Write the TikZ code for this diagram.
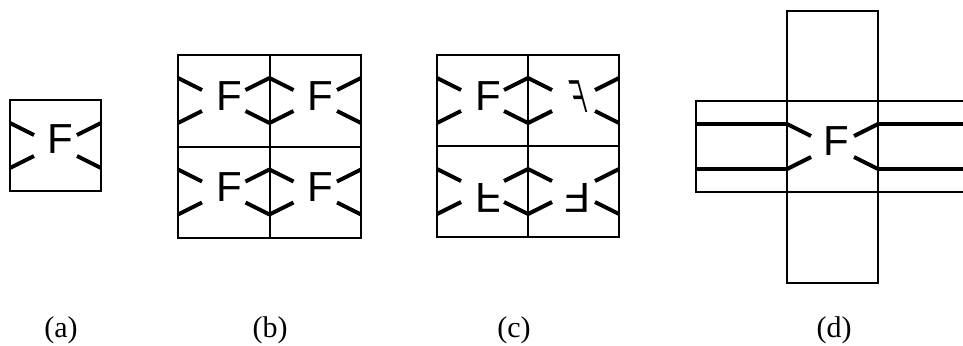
\documentclass[tikz,border=0pt]{standalone}
\usepackage{fontspec}
\setmainfont{Liberation Serif}
\newfontfamily\glyphfont{Liberation Sans}
\usetikzlibrary{positioning}

\begin{document}
\begin{tikzpicture}[
  x=0.5pt,y=-0.5pt,
  cellbox/.style={draw,line width=1pt},
  wedge/.style={line width=2pt},
  glyph/.style={font=\glyphfont\fontsize{21}{21}\selectfont,inner sep=0pt},
  caption/.style={font=\fontsize{15}{15}\selectfont,anchor=base,inner sep=0pt}
]
  \useasboundingbox (0,0) rectangle (963,345);
  \clip (0,0) rectangle (963,345);
  % (a) single cell
  \draw[cellbox] (10,100) rectangle (101,191);
  % (b) and (c) 2x2 grids
  \draw[cellbox] (178,55) rectangle (361,238);
  \draw[cellbox] (269.5,55) -- (269.5,238);
  \draw[cellbox] (178,146.5) -- (361,146.5);
  \draw[cellbox] (437,55) rectangle (619,237);
  \draw[cellbox] (528,55) -- (528,237);
  \draw[cellbox] (437,146) -- (619,146);
  % (d) cross
  \draw[cellbox] (787,11) rectangle (878,283);
  \draw[cellbox] (696,101) rectangle (969,192);
  \draw[wedge] (696,124) -- (787,124);
  \draw[wedge] (696,169) -- (787,169);
  \draw[wedge] (878,124) -- (969,124);
  \draw[wedge] (878,169) -- (969,169);
  % wedges at the sides of every cell
  \foreach \x/\y/\s in {10/100/91, 178/55/91.5, 269.5/55/91.5, 178/146.5/91.5, 269.5/146.5/91.5,
                        437/55/91, 528/55/91, 437/146/91, 528/146/91, 787/101/91} {
    \draw[wedge] (\x,\y+23) -- ++(24,12);
    \draw[wedge] (\x,\y+68) -- ++(24,-12);
    \draw[wedge] (\x+\s,\y+23) -- ++(-24,12);
    \draw[wedge] (\x+\s,\y+68) -- ++(-24,-12);
  }
  % letters
  \node[glyph] (fa) at (60,139.5) {F};
  \node[glyph] (fb1) at (229,96) {F};
  \node[glyph] (fb2) at (320.5,96) {F};
  \node[glyph] (fb3) at (229,187.5) {F};
  \node[glyph] (fb4) at (320.5,187.5) {F};
  \node[glyph] (fc1) at (488,96) {F};
  \node[glyph,cm={-0.5,0,-0.3,1.1,(0,0)}] (fc2) at (579,97) {F};
  \node[glyph,yscale=-1] (fc3) at (488,198) {F};
  \node[glyph,rotate=180] (fc4) at (577.5,198) {F};
  \node[glyph] (fd) at (836,141) {F};
  % captions
  \node[caption] (capa) at (61,337) {(a)};
  \node[caption] (capb) at (270,337) {(b)};
  \node[caption] (capc) at (514,337) {(c)};
  \node[caption] (capd) at (834,337) {(d)};
\end{tikzpicture}
\end{document}
